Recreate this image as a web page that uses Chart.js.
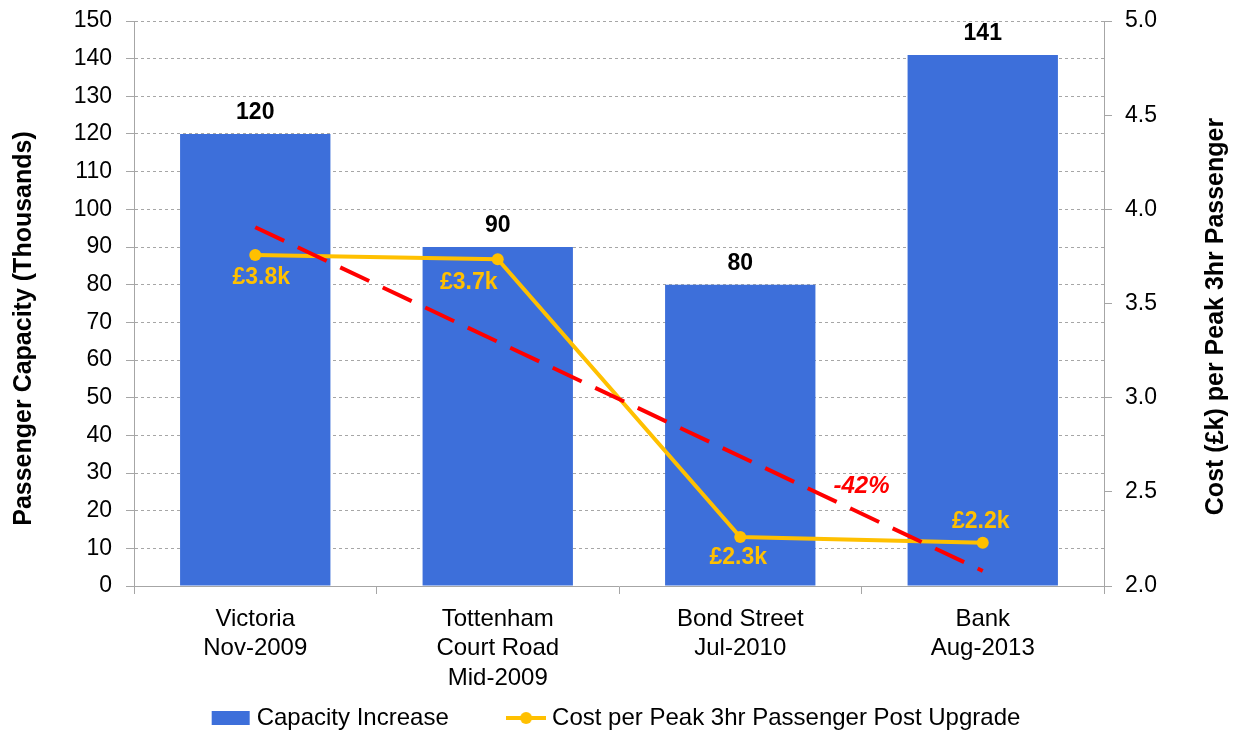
<!DOCTYPE html>
<html>
<head>
<meta charset="utf-8">
<title>Station upgrades: capacity vs cost</title>
<script src="https://cdn.jsdelivr.net/npm/chart.js@4.4.1/dist/chart.umd.min.js"></script>
<style>
  html, body { margin: 0; padding: 0; background: #fff; }
  #wrap { width: 1237px; height: 733px; }
</style>
</head>
<body>
<div id="wrap"><canvas id="chart" width="1237" height="733"></canvas></div>
<script>
// Data
const stations = [
    ['Victoria', 'Nov-2009'],
    ['Tottenham', 'Court Road', 'Mid-2009'],
    ['Bond Street', 'Jul-2010'],
    ['Bank', 'Aug-2013']
];
const capacityIncrease = [120, 90, 80, 141];           // thousands of passengers
const costPerPassenger = [3.757, 3.735, 2.26, 2.23];    // £k per peak 3hr passenger
const costTrend = [3.905, null, null, 2.08];            // red dashed trend, first to last station
const changeText = '-42%';

const seriesNames = ['Capacity Increase', 'Cost per Peak 3hr Passenger Post Upgrade'];
const leftTitle = 'Passenger Capacity (Thousands)';
const rightTitle = 'Cost (£k) per Peak 3hr Passenger';

const BLUE = '#3d6fda';
const GOLD = '#ffc000';
const RED = '#ff0000';
const GRID = '#a6a6a6';
const FONT = '"Liberation Sans", Arial, sans-serif';

Chart.defaults.font.family = FONT;
Chart.defaults.color = '#000';

// little canvases used as legend swatches
function swatch(kind) {
    const c = document.createElement('canvas');
    c.width = 40; c.height = 16;
    const g = c.getContext('2d');
    if (kind === 'bar') {
        g.fillStyle = BLUE;
        g.fillRect(1, 1, 38, 14);
    } else {
        g.strokeStyle = GOLD; g.lineWidth = 4;
        g.beginPath(); g.moveTo(0, 8); g.lineTo(40, 8); g.stroke();
        g.fillStyle = GOLD;
        g.beginPath(); g.arc(20, 8, 6, 0, Math.PI * 2); g.fill();
    }
    return c;
}

// fixed side widths so the plot area lines up with the original
function fitSide(width) {
    return s => {
        s.width = width;
        s.paddingTop = 0;
        s.paddingBottom = 0;
    };
}

// labels on bars / points, the -42% note and both axis titles
const labelPlugin = {
    id: 'labelPlugin',
    afterDatasetsDraw(chart) {
        const ctx = chart.ctx;
        const x = chart.scales.x, y1 = chart.scales.y1;
        ctx.save();
        ctx.textAlign = 'center';
        ctx.textBaseline = 'middle';

        ctx.font = 'bold 23px ' + FONT;
        ctx.fillStyle = '#000';
        chart.getDatasetMeta(2).data.forEach((bar, i) => {
            ctx.fillText(String(capacityIncrease[i]), bar.x, bar.y - 21);
        });

        // cost labels: below the first three points, above the last one
        const place = [[6, 23], [-29, 23], [-2, 21], [-2, -21]];
        ctx.fillStyle = GOLD;
        chart.getDatasetMeta(1).data.forEach((pt, i) => {
            ctx.fillText('£' + costPerPassenger[i].toFixed(1) + 'k', pt.x + place[i][0], pt.y + place[i][1]);
        });

        ctx.font = 'italic bold 24px ' + FONT;
        ctx.fillStyle = RED;
        ctx.fillText(changeText, x.getPixelForValue(2.5), y1.getPixelForValue(2.53));

        // axis titles, both reading bottom to top
        const area = chart.chartArea;
        const mid = (area.top + area.bottom) / 2;
        ctx.font = 'bold 25px ' + FONT;
        ctx.fillStyle = '#000';
        ctx.translate(24, mid + 25);
        ctx.rotate(-Math.PI / 2);
        ctx.fillText(leftTitle, 0, 0);
        ctx.setTransform(1, 0, 0, 1, 0, 0);
        ctx.translate(1216, mid + 13);
        ctx.rotate(-Math.PI / 2);
        ctx.fillText(rightTitle, 0, 0);
        ctx.restore();
    }
};

new Chart(document.getElementById('chart'), {
    data: {
        labels: stations,
        datasets: [
            {
                type: 'line',
                label: 'trend',
                data: costTrend,
                yAxisID: 'y1',
                borderColor: RED,
                borderWidth: 4,
                borderDash: [32, 15],
                pointRadius: 0,
                spanGaps: true,
                order: 0
            },
            {
                type: 'line',
                label: seriesNames[1],
                data: costPerPassenger,
                yAxisID: 'y1',
                borderColor: GOLD,
                backgroundColor: GOLD,
                borderWidth: 4,
                pointRadius: 6,
                pointBackgroundColor: GOLD,
                pointBorderWidth: 0,
                order: 1
            },
            {
                type: 'bar',
                label: seriesNames[0],
                data: capacityIncrease,
                yAxisID: 'y',
                backgroundColor: BLUE,
                barPercentage: 0.62,
                categoryPercentage: 1.0,
                order: 2
            }
        ]
    },
    options: {
        responsive: false,
        animation: false,
        devicePixelRatio: 1,
        layout: { padding: { top: 21, left: 0, right: 0, bottom: -7 } },
        plugins: {
            tooltip: { enabled: false },
            legend: {
                position: 'bottom',
                labels: {
                    usePointStyle: true,
                    pointStyleWidth: 28,
                    padding: 10,
                    font: { size: 24 },
                    color: '#000',
                    generateLabels: () => [
                        // trailing spaces keep the wide gap between the two entries
                        { text: seriesNames[0] + '        ', pointStyle: swatch('bar'), fillStyle: BLUE, strokeStyle: BLUE, lineWidth: 0, datasetIndex: 2 },
                        { text: seriesNames[1], pointStyle: swatch('line'), fillStyle: GOLD, strokeStyle: GOLD, lineWidth: 0, datasetIndex: 1 }
                    ]
                }
            }
        },
        scales: {
            x: {
                offset: true,
                grid: { drawOnChartArea: false, offset: true, tickLength: 8, color: GRID },
                border: { color: GRID },
                ticks: { font: { size: 24, lineHeight: 1.24 }, padding: 10, maxRotation: 0, autoSkip: false },
                afterFit: s => { s.height = 110; }
            },
            y: {
                position: 'left',
                min: 0, max: 150,
                ticks: { stepSize: 10, font: { size: 23 }, padding: 14 },
                grid: { color: GRID, tickLength: 8 },
                border: { color: GRID, dash: [3, 3] },
                afterFit: fitSide(134)
            },
            y1: {
                position: 'right',
                min: 2, max: 5,
                ticks: { stepSize: 0.5, font: { size: 23 }, padding: 13, callback: v => v.toFixed(1) },
                grid: { drawOnChartArea: false, color: GRID, tickLength: 8 },
                border: { color: GRID },
                afterFit: fitSide(133)
            }
        }
    },
    plugins: [labelPlugin]
});
</script>
</body>
</html>
